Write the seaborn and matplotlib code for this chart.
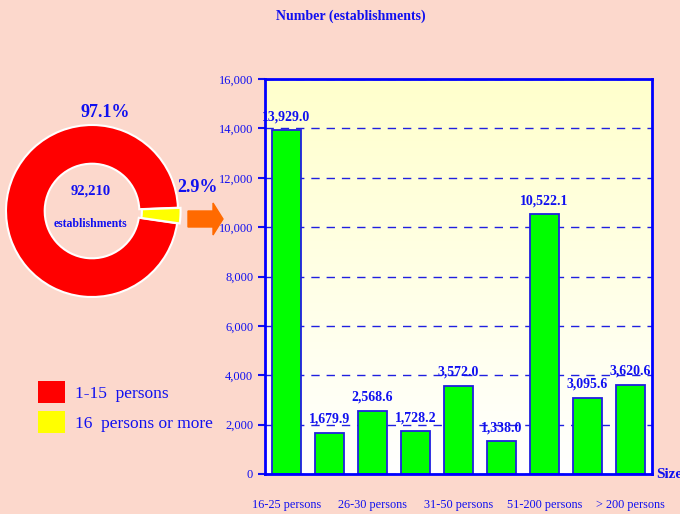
import numpy as np
import matplotlib
matplotlib.use("Agg")
import matplotlib.pyplot as plt
from matplotlib.patches import Patch, FancyArrow
import seaborn as sns

# establishment counts per size class (16 persons or more)
bar_values = [13929.0, 1679.9, 2568.6, 1728.2, 3572.0, 1338.0, 10522.1, 3095.6, 3620.6]
tick_labels = ["16-25 persons", "", "26-30 persons", "", "31-50 persons", "",
               "51-200 persons", "", "> 200 persons"]
y_ticks = list(range(0, 16001, 2000))

# share of all establishments
share_labels = ["1-15  persons", "16  persons or more"]
share_values = [97.1, 2.9]
share_colors = ["#FF0000", "#FFFF00"]
total_count = "92,210"

BG = "#FCD8CC"
BLUE = "#1010F0"
SERIF = "Liberation Serif"

sns.set_style("white")
plt.rcParams["font.family"] = [SERIF, "DejaVu Serif"]

fig = plt.figure(figsize=(6.8, 5.14), dpi=100, facecolor=BG)

# ---- bar chart ----
ax = fig.add_axes([265 / 680, 40 / 514, 387 / 680, 395 / 514])
grad = np.linspace(1, 0, 256).reshape(-1, 1)
top = np.array([1.0, 1.0, 0.80])
bottom = np.array([1.0, 1.0, 1.0])
img = bottom + (top - bottom) * grad[..., None]
ax.imshow(img, extent=[-0.5, 8.5, 0, 16000], aspect="auto", zorder=0)

sns.barplot(x=np.arange(len(bar_values)), y=bar_values, ax=ax, color="#00FF00",
            saturation=1, edgecolor="#2020E0", linewidth=1.3, width=0.67, zorder=3)

ax.bar_label(ax.containers[0], labels=[f"{v:,.1f}" for v in bar_values], padding=5,
             color=BLUE, fontsize=10, fontweight="bold")

ax.set_xlim(-0.5, 8.5)
ax.set_ylim(0, 16000)
ax.set_yticks(y_ticks)
ax.set_yticklabels([f"{v:,}" for v in y_ticks], color=BLUE, fontsize=9)
ax.set_xticks(range(len(bar_values)))
ax.set_xticklabels(tick_labels, color=BLUE, fontsize=8.8)
ax.set_xticks(np.arange(-0.5, 9, 1), minor=True)
ax.tick_params(axis="x", which="major", length=0, pad=18)
ax.tick_params(axis="x", which="minor", length=6, width=2, color=BLUE)
ax.tick_params(axis="y", length=5, width=1.5, color=BLUE, left=True)
ax.grid(axis="y", color="#2020E0", linestyle=(0, (6, 5)), linewidth=1, zorder=1)
ax.set_axisbelow(False)
for sp in ax.spines.values():
    sp.set_color("#0000FF")
    sp.set_linewidth(2)
    sp.set_zorder(4)
ax.set_xlabel("")
ax.set_ylabel("")

fig.text(351 / 680, 1 - 16 / 514, "Number (establishments)", ha="center", va="center",
         color=BLUE, fontsize=10, fontweight="bold")
fig.text(656 / 680, 1 - 474 / 514, "Size", ha="left", va="center",
         color=BLUE, fontsize=11, fontweight="bold")

# ---- donut ----
R = 86
pax = fig.add_axes([(92 - R) / 680, (514 - 211 - R) / 514, 2 * R / 680, 2 * R / 514])
pax.set_facecolor("none")
pax.pie(share_values, colors=share_colors, startangle=2.2, radius=1, explode=(0, 0.03),
        wedgeprops=dict(width=0.45, edgecolor="white", linewidth=1.5))
pax.set_xlim(-1, 1)
pax.set_ylim(-1, 1)
pax.set_aspect("equal")
pax.text(0.15, 1.15, f"{share_values[0]}%", ha="center", va="center", color=BLUE,
         fontsize=13, fontweight="bold", clip_on=False)
pax.text(1.23, 0.27, f"{share_values[1]}%", ha="center", va="center", color=BLUE,
         fontsize=13, fontweight="bold", clip_on=False)
pax.text(-0.02, 0.23, total_count, ha="center", va="center", color=BLUE,
         fontsize=10.5, fontweight="bold")
pax.text(-0.02, -0.15, "establishments", ha="center", va="center", color=BLUE,
         fontsize=8.5, fontweight="bold")

# arrow pointing to the bar chart
fig.add_artist(FancyArrow(1.88, 2.95, 0.35, 0, width=0.16, head_width=0.32,
                          head_length=0.10, length_includes_head=True,
                          color="#FF6A00", transform=fig.dpi_scale_trans))

handles = [Patch(facecolor=c, edgecolor="none") for c in share_colors]
fig.legend(handles, share_labels, loc="upper left",
           bbox_to_anchor=(38 / 680, 1 - 381 / 514), frameon=False,
           prop={"family": SERIF, "size": 12.5}, labelcolor=BLUE,
           handlelength=1.55, handleheight=1.55, handletextpad=0.6,
           labelspacing=0.5, borderpad=0, borderaxespad=0)

fig.savefig("out.png", dpi=100, facecolor=BG)
